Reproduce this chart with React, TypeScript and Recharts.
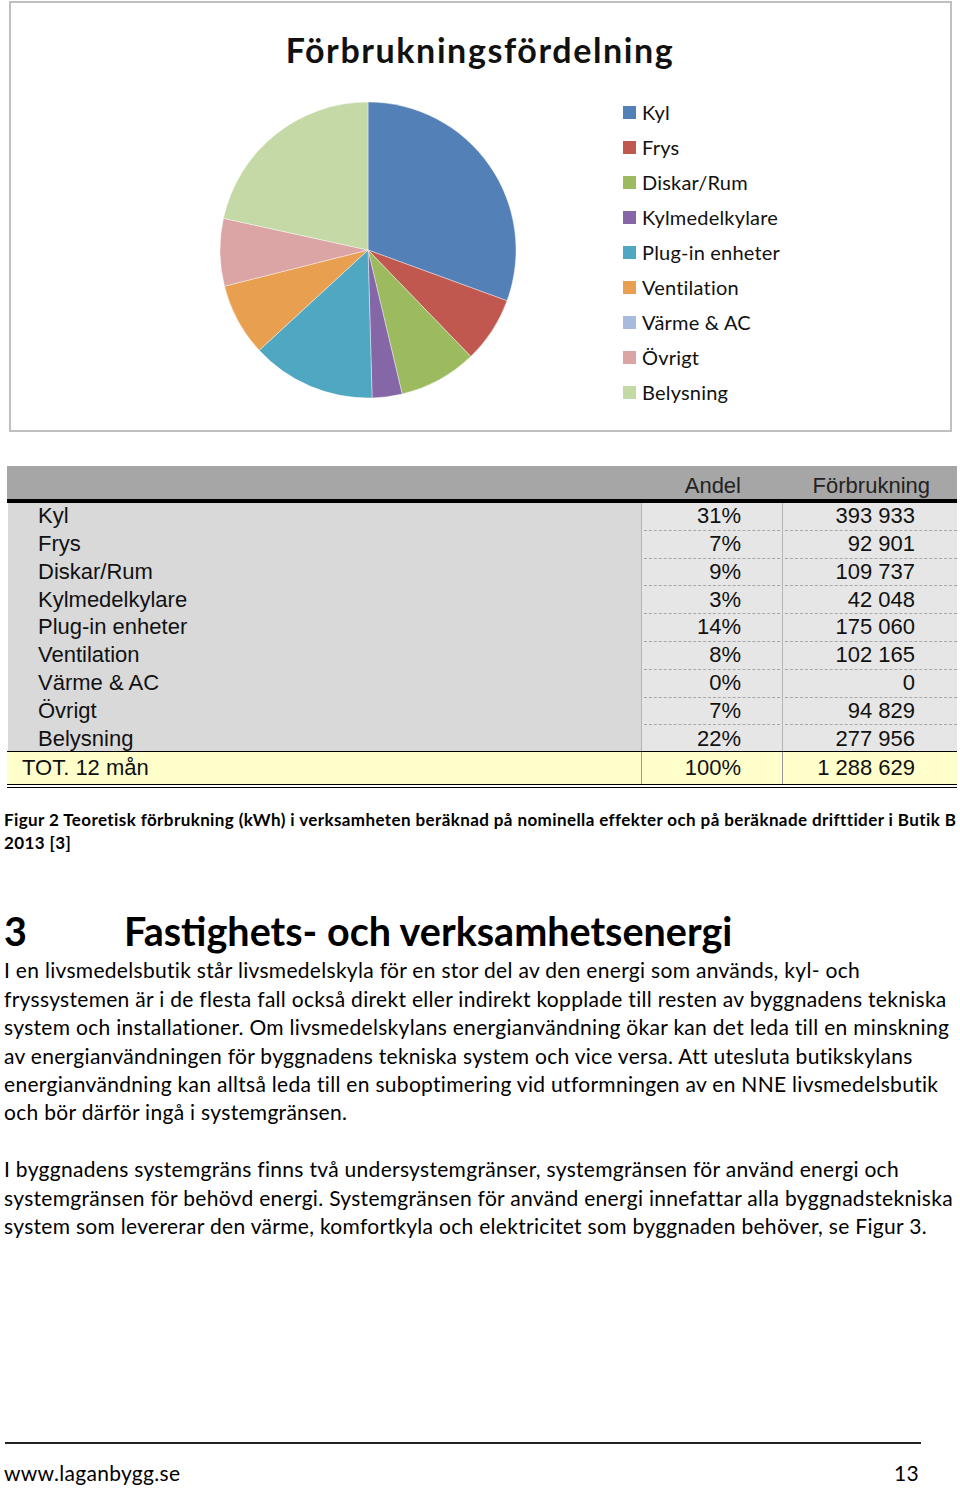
import React from 'react';
import { PieChart, Pie, Cell, Legend } from 'recharts';

const categories = ['Kyl', 'Frys', 'Diskar/Rum', 'Kylmedelkylare', 'Plug-in enheter', 'Ventilation', 'Värme & AC', 'Övrigt', 'Belysning'];
const shares = [31, 7, 9, 3, 14, 8, 0, 7, 22];
const consumption = [393933, 92901, 109737, 42048, 175060, 102165, 0, 94829, 277956];
const colors = ['#5480b8', '#c0584f', '#9cbb5e', '#8566a6', '#50a7c2', '#e8a050', '#a9badf', '#dca5a5', '#c5d9a7'];

const captionLines = [
  'Figur 2 Teoretisk förbrukning (kWh) i verksamheten beräknad på nominella effekter och på beräknade drifttider i Butik B',
  '2013 [3]',
];
const para1 = [
  'I en livsmedelsbutik står livsmedelskyla för en stor del av den energi som används, kyl- och',
  'fryssystemen är i de flesta fall också direkt eller indirekt kopplade till resten av byggnadens tekniska',
  'system och installationer. Om livsmedelskylans energianvändning ökar kan det leda till en minskning',
  'av energianvändningen för byggnadens tekniska system och vice versa. Att utesluta butikskylans',
  'energianvändning kan alltså leda till en suboptimering vid utformningen av en NNE livsmedelsbutik',
  'och bör därför ingå i systemgränsen.',
];
const para2 = [
  'I byggnadens systemgräns finns två undersystemgränser, systemgränsen för använd energi och',
  'systemgränsen för behövd energi. Systemgränsen för använd energi innefattar alla byggnadstekniska',
  'system som levererar den värme, komfortkyla och elektricitet som byggnaden behöver, se Figur 3.',
];

const pieData = categories.map((name, i) => ({ name, value: consumption[i] }));
const total = consumption.reduce((a, b) => a + b, 0);
const totalShare = Math.round((total / total) * 100);

const fmt = (n: number) => String(n).replace(/\B(?=(\d{3})+(?!\d))/g, ' ');

const SANS = 'Lato, sans-serif';
const ARIAL = '"Liberation Sans", Arial, sans-serif';

const Line = ({ x, y, size, children, bold, font = SANS, right, color = '#000', ls = 0 }: any) => (
  <div
    style={{
      position: 'absolute',
      left: right ? undefined : x,
      right: right ? 960 - x : undefined,
      top: y - size * 0.6,
      fontSize: size,
      lineHeight: `${size * 1.2}px`,
      fontWeight: bold ? 700 : 400,
      fontFamily: font,
      letterSpacing: ls,
      whiteSpace: 'nowrap',
      color,
    }}
  >
    {children}
  </div>
);

const LegendContent = () => (
  <div>
    {categories.map((c, i) => (
      <div key={c} style={{ position: 'absolute', left: 0, top: i * 35, height: 24, display: 'flex', alignItems: 'center' }}>
        <div style={{ width: 13, height: 13, background: colors[i], marginRight: 6 }} />
        <span style={{ fontFamily: SANS, fontSize: 20, letterSpacing: 0.2, color: '#111', whiteSpace: 'nowrap' }}>{c}</span>
      </div>
    ))}
  </div>
);

const ROW_TOP = 502;
const ROW_H = 27.8;

export default function App() {
  return (
    <div style={{ position: 'absolute', left: 0, top: 0, width: 960, height: 1488, background: '#fff', overflow: 'hidden' }}>
      {/* chart box */}
      <div style={{ position: 'absolute', left: 9, top: 1, width: 939, height: 427, border: '2px solid #c0c0c0' }} />
      <div style={{ position: 'absolute', left: 0, top: 30, width: 960, textAlign: 'center', fontFamily: SANS, fontWeight: 700, fontSize: 34, lineHeight: '40px', letterSpacing: 1.6, color: '#111' }}>
        Förbrukningsfördelning
      </div>
      <div style={{ position: 'absolute', left: 0, top: 0 }}>
        <PieChart width={960} height={440} margin={{ top: 0, right: 0, bottom: 0, left: 0 }}>
          <Pie
            data={pieData}
            dataKey="value"
            nameKey="name"
            cx={368}
            cy={250}
            outerRadius={148}
            startAngle={90}
            endAngle={-270}
            stroke="#fff"
            strokeWidth={0.4}
            isAnimationActive={false}
          >
            {pieData.map((d, i) => (
              <Cell key={d.name} fill={colors[i]} />
            ))}
          </Pie>
          <Legend
            layout="vertical"
            content={<LegendContent />}
            wrapperStyle={{ position: 'absolute', left: 623, top: 100, width: 200, height: 320 }}
          />
        </PieChart>
      </div>

      {/* table */}
      <div style={{ position: 'absolute', left: 7, top: 466, width: 950, height: 33, background: '#a6a6a6' }} />
      <Line x={741} y={486} size={22} font={ARIAL} right color="#222">Andel</Line>
      <Line x={930} y={486} size={22} font={ARIAL} right color="#222">Förbrukning</Line>
      <div style={{ position: 'absolute', left: 7, top: 499, width: 950, height: 4, background: '#000' }} />
      <div style={{ position: 'absolute', left: 8, top: 503, width: 633, height: 248, background: '#d9d9d9' }} />
      <div style={{ position: 'absolute', left: 641, top: 503, width: 1, height: 248, background: '#b4b4b4' }} />
      <div style={{ position: 'absolute', left: 642, top: 503, width: 140, height: 248, background: '#e6e6e6' }} />
      <div style={{ position: 'absolute', left: 782, top: 503, width: 1, height: 248, background: '#b4b4b4' }} />
      <div style={{ position: 'absolute', left: 783, top: 503, width: 174, height: 248, background: '#e6e6e6' }} />
      {categories.map((c, i) => {
        const cy = ROW_TOP + ROW_H * i + ROW_H / 2 + 0.5;
        return (
          <React.Fragment key={c}>
            <Line x={38} y={cy} size={22} font={ARIAL} color="#111">{c}</Line>
            <Line x={741} y={cy} size={22} font={ARIAL} right color="#111">{shares[i]}%</Line>
            <Line x={915} y={cy} size={22} font={ARIAL} right color="#111">{fmt(consumption[i])}</Line>
            {i < categories.length - 1 && (
              <>
                <div style={{ position: 'absolute', left: 644, top: ROW_TOP + ROW_H * (i + 1), width: 136, borderTop: '1px dashed #a8a8a8' }} />
                <div style={{ position: 'absolute', left: 785, top: ROW_TOP + ROW_H * (i + 1), width: 172, borderTop: '1px dashed #a8a8a8' }} />
              </>
            )}
          </React.Fragment>
        );
      })}
      <div style={{ position: 'absolute', left: 7, top: 751, width: 950, height: 1, background: '#000' }} />
      <div style={{ position: 'absolute', left: 7, top: 752, width: 950, height: 32, background: '#ffffcc' }} />
      <div style={{ position: 'absolute', left: 641, top: 752, width: 1, height: 32, background: '#999' }} />
      <div style={{ position: 'absolute', left: 782, top: 752, width: 1, height: 32, background: '#999' }} />
      <div style={{ position: 'absolute', left: 7, top: 784, width: 950, height: 1, background: '#000' }} />
      <div style={{ position: 'absolute', left: 7, top: 787, width: 950, height: 1, background: '#000' }} />
      <Line x={22} y={768} size={22} font={ARIAL} color="#111">TOT. 12 mån</Line>
      <Line x={741} y={768} size={22} font={ARIAL} right color="#111">{totalShare}%</Line>
      <Line x={915} y={768} size={22} font={ARIAL} right color="#111">{fmt(total)}</Line>

      {/* caption */}
      {captionLines.map((l, i) => (
        <Line key={i} x={4} y={820 + i * 23} size={17} ls={0.4} bold>{l}</Line>
      ))}

      {/* heading */}
      <Line x={4} y={931} size={39.5} bold>3</Line>
      <Line x={124} y={931} size={39.5} bold>Fastighets- och verksamhetsenergi</Line>

      {para1.map((l, i) => (
        <Line key={i} x={4} y={970 + i * 28.4} size={21} ls={0.3}>{l}</Line>
      ))}
      {para2.map((l, i) => (
        <Line key={i} x={4} y={1169 + i * 28.4} size={21} ls={0.3}>{l}</Line>
      ))}

      {/* footer */}
      <div style={{ position: 'absolute', left: 5, top: 1442, width: 916, height: 2, background: '#222' }} />
      <Line x={4} y={1473} size={21} ls={0.3}>www.laganbygg.se</Line>
      <Line x={919} y={1473} size={21} ls={0.3} right>13</Line>
    </div>
  );
}
